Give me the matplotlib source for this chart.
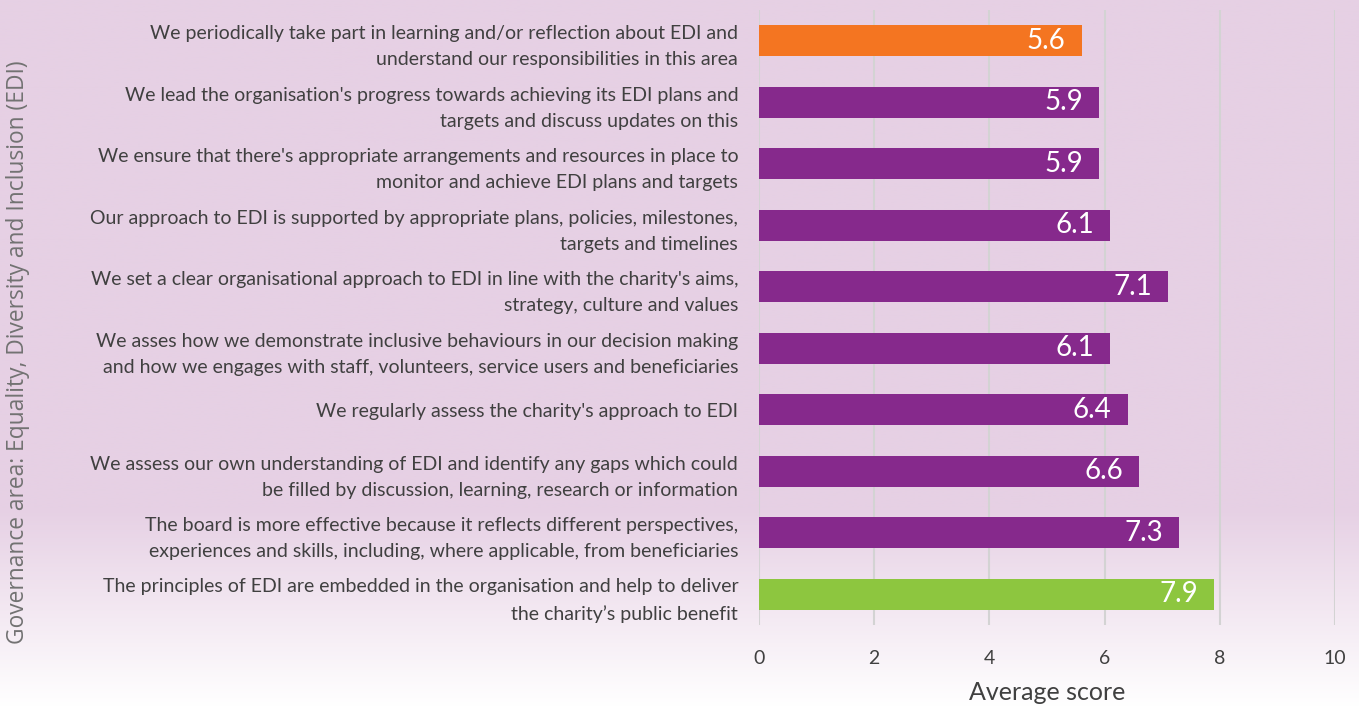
import matplotlib
matplotlib.use("Agg")
import matplotlib.pyplot as plt
import numpy as np

categories = [
    "We periodically take part in learning and/or reflection about EDI and\nunderstand our responsibilities in this area",
    "We lead the organisation's progress towards achieving its EDI plans and\ntargets and discuss updates on this",
    "We ensure that there's appropriate arrangements and resources in place to\nmonitor and achieve EDI plans and targets",
    "Our approach to EDI is supported by appropriate plans, policies, milestones,\ntargets and timelines",
    "We set a clear organisational approach to EDI in line with the charity's aims,\nstrategy, culture and values",
    "We asses how we demonstrate inclusive behaviours in our decision making\nand how we engages with staff, volunteers, service users and beneficiaries",
    "We regularly assess the charity's approach to EDI",
    "We assess our own understanding of EDI and identify any gaps which could\nbe filled by discussion, learning, research or information",
    "The board is more effective because it reflects different perspectives,\nexperiences and skills, including, where applicable, from beneficiaries",
    "The principles of EDI are embedded in the organisation and help to deliver\nthe charity\u2019s public benefit",
]
scores = [5.6, 5.9, 5.9, 6.1, 7.1, 6.1, 6.4, 6.6, 7.3, 7.9]
bar_colors = ["#F47521"] + ["#86298C"] * 8 + ["#8DC63F"]
x_ticks = [0, 2, 4, 6, 8, 10]
x_label = "Average score"
y_label = "Governance area: Equality, Diversity and Inclusion (EDI)"

W, H = 1359, 707
fig = plt.figure(figsize=(W / 100, H / 100), dpi=100)

# gradient background
bg = fig.add_axes([0, 0, 1, 1], zorder=-10)
n = 400
t = np.linspace(0, 1, n)  # 0 = top, 1 = bottom
top_col = np.array([0xE6, 0xD0, 0xE4]) / 255
bot_col = np.array([1.0, 1.0, 1.0])
frac = np.clip((t - 0.72) / 0.28, 0, 1)
img = top_col[None, :] * (1 - frac[:, None]) + bot_col[None, :] * frac[:, None]
img = np.repeat(img[:, None, :], 2, axis=1)
bg.imshow(img, aspect="auto", extent=[0, 1, 0, 1])
bg.axis("off")

ax = fig.add_axes([759 / W, 1 - 625 / H, (1335 - 759) / W, (625 - 10) / H])
ax.patch.set_alpha(0)
y = np.arange(len(categories))
ax.barh(y, scores, height=0.5, color=bar_colors, zorder=3)
ax.set_xlim(0, 10)
ax.set_ylim(len(categories) - 0.5, -0.5)
ax.set_xticks(x_ticks)
ax.set_xticklabels([str(v) for v in x_ticks], fontsize=14, color="#404040", family="Lato")
ax.tick_params(axis="x", length=0, pad=18)
ax.set_yticks(y)
ax.set_yticklabels(categories, fontsize=14, color="#404040", family="Lato", linespacing=1.65)
ax.tick_params(axis="y", length=0, pad=15)
ax.grid(axis="x", color="#D3D3D3", linewidth=1.5, zorder=0)
for s in ax.spines.values():
    s.set_visible(False)

for yi, v in zip(y, scores):
    ax.text(v - 0.28, yi, f"{v:.1f}", ha="right", va="center", color="white",
            fontsize=20, family="Lato", zorder=4)

ax.set_xlabel(x_label, fontsize=18, color="#404040", family="Lato", labelpad=10)
fig.text(18 / W, 1 - 352 / H, y_label, rotation=90, ha="center", va="center",
         fontsize=16.4, color="#727272", family="Open Sans")

fig.savefig("out.png", dpi=100)
